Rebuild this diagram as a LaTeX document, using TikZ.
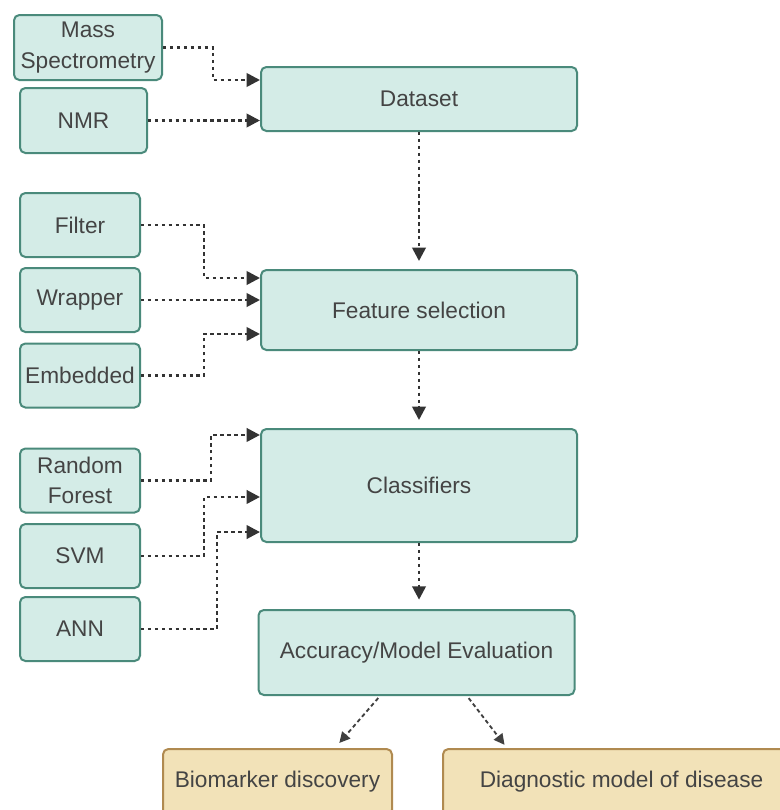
\documentclass[tikz,border=0pt]{standalone}
\usepackage{fontspec}
\setmainfont{Liberation Sans}
\usetikzlibrary{arrows.meta,positioning}
\definecolor{tealfill}{HTML}{D4ECE7}
\definecolor{tealedge}{HTML}{4A8A7B}
\definecolor{tanfill}{HTML}{F2E2B8}
\definecolor{tanedge}{HTML}{B08A50}
\definecolor{textgray}{HTML}{444444}
\tikzset{
    srcbox/.style={rectangle,draw=tealedge,fill=tealfill,line width=1.5pt,rounded corners=4pt,align=center,text=textgray,font=\fontsize{17}{23}\selectfont,minimum width=90pt,minimum height=48pt,inner sep=1pt},
    stagebox/.style={srcbox,minimum width=237pt},
    resultbox/.style={rectangle,draw=tanedge,fill=tanfill,line width=1.5pt,rounded corners=4pt,align=center,text=textgray,font=\fontsize{17}{22}\selectfont,minimum height=49.5pt},
    flowline/.style={-{Triangle[length=10pt,width=10pt]},line width=2pt,draw=black!80,dash pattern=on 2.6pt off 2.6pt},
    outline/.style={-{Triangle[length=8pt,width=8pt]},line width=1.4pt,draw=black!75,dash pattern=on 3pt off 2.2pt}
}
\begin{document}
\begin{tikzpicture}[x=0.75pt,y=-0.75pt]
            \useasboundingbox (0,0) rectangle (779,810);
            % data sources
            \node[srcbox,minimum width=111pt,minimum height=48.75pt] (ms) at (88,47.5) {Mass\\Spectrometry};
            \node[srcbox,minimum width=95.25pt,minimum height=48.75pt] (nmr) at (83.5,120.5) {NMR};
            \node[stagebox] (dataset) at (419,99) {Dataset};
            % feature selection methods
            \node[srcbox] (filter) at (80,225) {Filter};
            \node[srcbox] (wrapper) at (80,300) {Wrapper};
            \node[srcbox] (embedded) at (80,375.5) {Embedded};
            \node[stagebox,minimum height=60pt] (featsel) at (419,310) {Feature selection};
            % classifiers
            \node[srcbox] (forest) at (80,480.5) {Random\\Forest};
            \node[srcbox] (svm) at (80,556) {SVM};
            \node[srcbox] (ann) at (80,629) {ANN};
            \node[stagebox,minimum height=84.75pt] (classif) at (419,485.5) {Classifiers};
            \node[stagebox,minimum height=63.75pt] (evalbox) at (416.5,652.5) {Accuracy/Model Evaluation};
            % outcomes
            \node[resultbox,minimum width=171.75pt] (biomarker) at (277.5,782) {Biomarker discovery};
            \node[resultbox,minimum width=267.75pt] (diagmodel) at (621.5,782) {Diagnostic model of disease};
            % connectors
            \draw[flowline] (ms.east) -- ++(50,0) |- ([yshift=14.25pt]dataset.west);
            \draw[flowline] (nmr.east) -- (nmr.east -| dataset.west);
            \draw[flowline,shorten >=6pt] (dataset) -- (featsel);
            \draw[flowline] (filter.east) -- ++(63,0) |- ([yshift=24pt]featsel.west);
            \draw[flowline] (wrapper.east) -- (wrapper.east -| featsel.west);
            \draw[flowline] (embedded.east) -- ++(63,0) |- ([yshift=-18pt]featsel.west);
            \draw[flowline,shorten >=6pt] (featsel) -- (classif);
            \draw[flowline] (forest.east) -- ++(70,0) |- ([yshift=37.9pt]classif.west);
            \draw[flowline] (svm.east) -- ++(63,0) |- ([yshift=-8.6pt]classif.west);
            \draw[flowline] (ann.east) -- ++(76,0) |- ([yshift=-34.9pt]classif.west);
            \draw[flowline,shorten >=7pt] ([xshift=1.9pt]evalbox.north |- classif.south) -- ([xshift=1.9pt]evalbox.north);
            \draw[outline,shorten <=2pt,shorten >=5pt] ([xshift=-27.4pt]evalbox.south) -- ([xshift=43.1pt]biomarker.north);
            \draw[outline,shorten <=2pt,shorten >=3pt] ([xshift=37.9pt]evalbox.south) -- ([xshift=-85.9pt]diagmodel.north);
        \end{tikzpicture}
\end{document}
